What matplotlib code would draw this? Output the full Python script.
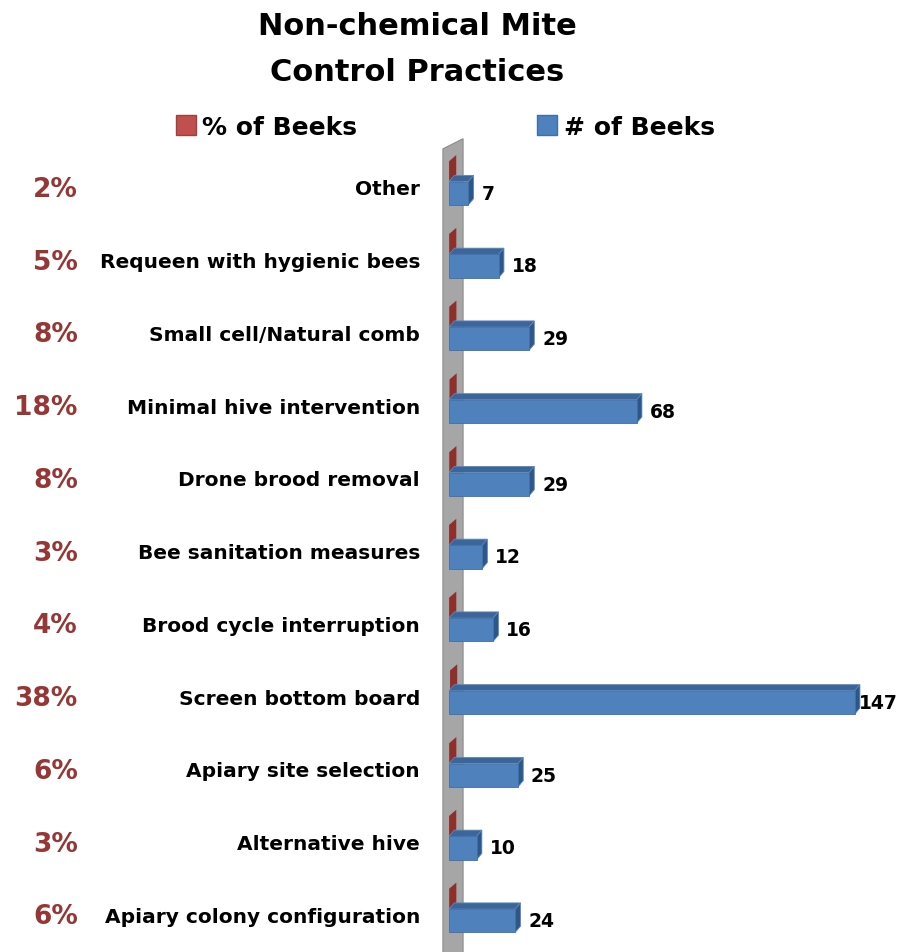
import matplotlib.pyplot as plt
from matplotlib.patches import Polygon, Rectangle, Patch

cats = ['Other', 'Requeen with hygienic bees', 'Small cell/Natural comb',
        'Minimal hive intervention', 'Drone brood removal', 'Bee sanitation measures',
        'Brood cycle interruption', 'Screen bottom board', 'Apiary site selection',
        'Alternative hive', 'Apiary colony configuration']
counts = [7, 18, 29, 68, 29, 12, 16, 147, 25, 10, 24]
pct = [2, 5, 8, 18, 8, 3, 4, 38, 6, 3, 6]

blue = '#4F81BD'
blue_top = '#3C6699'
blue_side = '#2E5686'
red = '#953735'

fig = plt.figure(figsize=(8.98, 9.53), dpi=100)
ax = fig.add_axes([0, 0, 1, 1])
ax.set_xlim(-162.7, 162.7)
ax.set_ylim(10.49, -2.61)
ax.axis('off')

# depth offsets of the 3d look
dx, dy = 1.9, 0.085

# back wall
ax.add_patch(Polygon([(-2.2, 10.8), (5.1, 10.66), (5.1, -0.69), (-2.2, -0.55)],
                     closed=True, fc='#A6A6A6', ec='#8C8C8C', lw=0.8, zorder=1))

for i, (c, v, p) in enumerate(zip(cats, counts, pct)):
    # % series, nearly zero length -> only the end face shows
    w = p / 100
    ax.add_patch(Polygon([(w, i - 0.38), (w, i - 0.11), (w + 2.6, i - 0.11 - dy),
                          (w + 2.6, i - 0.38 - dy)], closed=True, fc='#8E2F2C',
                         ec='none', zorder=2))
    # # series, 3d bar
    y0, y1 = i - 0.10, i + 0.22
    ax.add_patch(Polygon([(0, y0), (v, y0), (v + dx, y0 - dy), (dx, y0 - dy)],
                         closed=True, fc=blue_top, ec='#5B86B8', lw=0.6, zorder=3))
    ax.add_patch(Polygon([(v, y0), (v, y1), (v + dx, y1 - dy), (v + dx, y0 - dy)],
                         closed=True, fc=blue_side, ec='#5B86B8', lw=0.6, zorder=3))
    ax.add_patch(Rectangle((0, y0), v, y1 - y0, fc=blue, ec='#3F6FA8', lw=0.6, zorder=4))
    ax.text(min(v + dx + 2.8, 148.5), (y0 + y1) / 2, str(v), ha='left', va='center',
            fontsize=13.5, fontweight='bold', color='black', zorder=5)
    ax.text(-10.5, i, c, ha='right', va='center', fontsize=14.5, fontweight='bold')
    ax.text(-134.5, i, f'{p}%', ha='right', va='center', fontsize=19,
            fontweight='bold', color=red)

fig.text(0.465, 0.948, 'Non-chemical Mite\nControl Practices', ha='center', va='center',
         fontsize=22, fontweight='bold', linespacing=1.75)

handles = [Patch(fc='#C0504D', ec='#A0403D', label='% of Beeks'),
           Patch(fc=blue, ec='#3F6FA8', label='# of Beeks')]
fig.legend(handles=handles, loc='center', bbox_to_anchor=(0.496, 0.866), ncol=2,
           frameon=False, prop={'size': 18, 'weight': 'bold'}, handlelength=0.8,
           handleheight=0.8, handletextpad=0.25, columnspacing=7.2)

fig.savefig('out.png', dpi=100)
